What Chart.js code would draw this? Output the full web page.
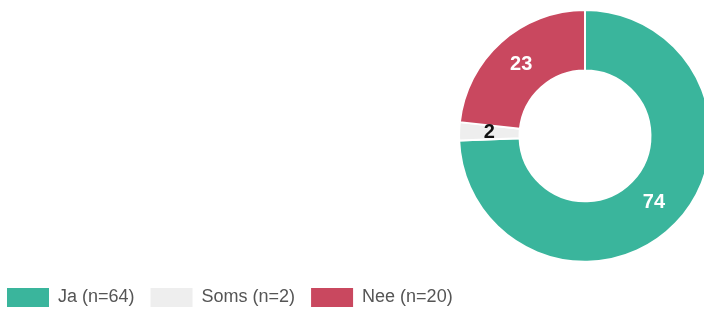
<!DOCTYPE html>
<html>
<head>
<meta charset="utf-8">
<script src="https://cdn.jsdelivr.net/npm/chart.js@4/dist/chart.umd.min.js"></script>
<style>
  html, body { margin: 0; padding: 0; background: #fff; overflow: hidden; width: 704px; height: 311px; }
  #wrap { position: absolute; left: -9px; top: 0; width: 1188px; height: 317px; }
</style>
</head>
<body>
<div id="wrap"><canvas id="answerChart"></canvas></div>
<script>
const categories = ['Ja (n=64)', 'Soms (n=2)', 'Nee (n=20)'];
const values = [64, 2, 20];
const sliceColors = ['#3ab59c', '#eeeeee', '#c9485f'];
const labelColors = ['#ffffff', '#111111', '#ffffff'];

// percentage labels inside the slices
const sliceLabels = {
    id: 'sliceLabels',
    afterDatasetsDraw(chart) {
        const ctx = chart.ctx;
        const meta = chart.getDatasetMeta(0);
        const total = values.reduce((a, b) => a + b, 0);
        ctx.save();
        ctx.font = 'bold 20px "Liberation Sans", Arial, sans-serif';
        ctx.textAlign = 'center';
        ctx.textBaseline = 'middle';
        meta.data.forEach((arc, i) => {
            const p = arc.tooltipPosition();
            ctx.fillStyle = labelColors[i];
            ctx.fillText(String(Math.round(values[i] / total * 100)), p.x, p.y);
        });
        ctx.restore();
    }
};

new Chart(document.getElementById('answerChart'), {
    type: 'doughnut',
    data: {
        labels: categories,
        datasets: [{
            data: values,
            backgroundColor: sliceColors,
            borderColor: '#ffffff',
            borderWidth: 2
        }]
    },
    options: {
        responsive: true,
        maintainAspectRatio: false,
        animation: false,
        cutout: '52%',
        layout: { padding: { top: 9 } },
        plugins: {
            tooltip: { enabled: false },
            legend: {
                position: 'bottom',
                align: 'start',
                title: { display: true, text: '', font: { size: 1 }, padding: { top: 8, bottom: 0 } },
                labels: {
                    boxWidth: 42,
                    boxHeight: 19,
                    padding: 16,
                    color: '#555555',
                    font: { size: 18, family: '"Liberation Sans", Arial, sans-serif' },
                    generateLabels(chart) {
                        const items = Chart.overrides.doughnut.plugins.legend.labels.generateLabels(chart);
                        items.forEach(it => { it.lineWidth = 0; it.strokeStyle = 'rgba(0,0,0,0)'; });
                        return items;
                    }
                }
            }
        }
    },
    plugins: [sliceLabels]
});
</script>
</body>
</html>
